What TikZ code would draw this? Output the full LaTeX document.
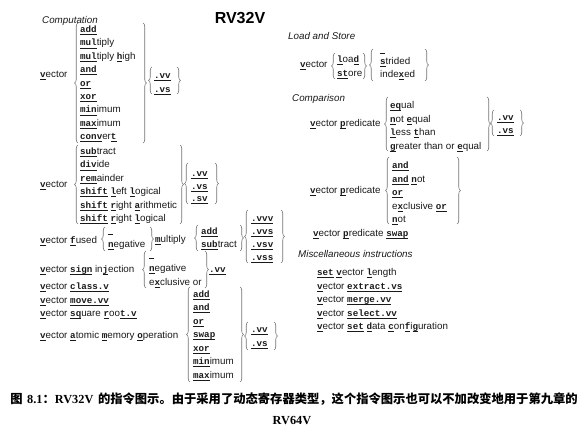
\documentclass[tikz,border=0pt]{standalone}
\usepackage{fontspec}
\setsansfont{Liberation Sans}
\newfontfamily\mono{Liberation Mono}
\newfontfamily\cjk{Noto Sans CJK SC}
\newfontfamily\serifb{Liberation Serif}
\usetikzlibrary{decorations.pathreplacing}
\newcommand\K[1]{\setbox0\hbox{\mono\bfseries\fontsize{9.2}{11}\selectfont #1}\rlap{\rule[-2.4pt]{\wd0}{0.75pt}}\box0\relax}
\newcommand\BLANK{\K{\hspace{5pt}}}
\newcommand\LB[3]{\draw[brc] (#1,#3) -- (#1,#2);}
\newcommand\RB[3]{\draw[brc] (#1,#2) -- (#1,#3);}
\tikzset{
  txt/.style={inner sep=0pt, anchor=base west, text=black!90, font=\sffamily\fontsize{9.8}{12}\selectfont},
  sec/.style={txt, font=\sffamily\itshape\fontsize{9.8}{11}\selectfont},
  brc/.style={draw=black!55, line width=0.6pt, decorate, decoration={brace, amplitude=3.5pt}},
}
\begin{document}
\begin{tikzpicture}[x=1pt,y=-1pt]
\useasboundingbox (0,0) rectangle (584,437);
\node[inner sep=0pt, font=\sffamily\bfseries\fontsize{16}{18}\selectfont] (title) at (240,18) {RV32V};
% ---------- Computation
\node[sec] (comp) at (42,23) {Computation};
\node[txt] (v1) at (40,77) {\K{v}ector};
\LB{78}{23}{143}
\node[txt] (c1) at (80,32.5) {\K{add}};
\node[txt] (c2) at (80,45.9) {\K{mul}tiply};
\node[txt] (c3) at (80,59.3) {\K{mul}tiply \K{h}igh};
\node[txt] (c4) at (80,72.7) {\K{and}};
\node[txt] (c5) at (80,86.1) {\K{or}};
\node[txt] (c6) at (80,99.5) {\K{xor}};
\node[txt] (c7) at (80,112.9) {\K{min}imum};
\node[txt] (c8) at (80,126.3) {\K{max}imum};
\node[txt] (c9) at (80,139.7) {\K{conv}er\K{t}};
\RB{143}{23}{143}
\LB{152}{67}{94}
\node[txt] (s1) at (154,78) {\K{.vv}};
\node[txt] (s2) at (154,92) {\K{.vs}};
\RB{177}{67}{94}
% ---------- block 2
\node[txt] (v2) at (40,187) {\K{v}ector};
\LB{78}{145}{224}
\node[txt] (d1) at (80,154.5) {\K{sub}tract};
\node[txt] (d2) at (80,167.9) {\K{div}ide};
\node[txt] (d3) at (80,181.3) {\K{rem}ainder};
\node[txt] (d4) at (80,194.7) {\K{shift} \K{l}eft \K{l}ogical};
\node[txt] (d5) at (80,208.1) {\K{shift} \K{r}ight \K{a}rithmetic};
\node[txt] (d6) at (80,221.5) {\K{shift} \K{r}ight \K{l}ogical};
\RB{180}{145}{224}
\LB{188}{163}{204}
\node[txt] (t1) at (191,176.5) {\K{.vv}};
\node[txt] (t2) at (191,189) {\K{.vs}};
\node[txt] (t3) at (191,201.5) {\K{.sv}};
\RB{215}{163}{204}
% ---------- fused
\node[txt] (f0) at (40,243) {\K{v}ector \K{f}used};
\LB{105}{227}{251}
\node[txt] (f1) at (108,232) {\BLANK};
\node[txt] (f2) at (108,247) {\K{n}egative};
\RB{150}{227}{251}
\node[txt] (f3) at (155,242.5) {\K{m}ultiply};
\LB{198}{225}{251}
\node[txt] (f4) at (201,234) {\K{add}};
\node[txt] (f5) at (201,247.5) {\K{sub}tract};
\RB{240}{225}{251}
\LB{248}{210}{263}
\node[txt] (f6) at (251,221.5) {\K{.vvv}};
\node[txt] (f7) at (251,234.5) {\K{.vvs}};
\node[txt] (f8) at (251,247.5) {\K{.vsv}};
\node[txt] (f9) at (251,260.5) {\K{.vss}};
\RB{281}{210}{263}
% ---------- sign injection
\node[txt] (g0) at (40,272.5) {\K{v}ector \K{sign} in\K{j}ection};
\LB{146}{251}{288}
\node[txt] (g1) at (149,256) {\BLANK};
\node[txt] (g2) at (149,271.5) {\K{n}egative};
\node[txt] (g3) at (149,285.5) {e\K{x}clusive or};
\RB{205}{251}{288}
\node[txt] (g4) at (209,272) {\K{.vv}};
\node[txt] (h1) at (40,289.5) {\K{v}ector \K{class.v}};
\node[txt] (h2) at (40,303) {\K{v}ector \K{move.vv}};
\node[txt] (h3) at (40,316.5) {\K{v}ector \K{sq}uare \K{r}oo\K{t.v}};
% ---------- atomic
\node[txt] (a0) at (40,338.5) {\K{v}ector \K{a}tomic \K{m}emory \K{o}peration};
\LB{190}{287}{382}
\node[txt] (a1) at (193,297) {\K{add}};
\node[txt] (a2) at (193,310.5) {\K{and}};
\node[txt] (a3) at (193,324) {\K{or}};
\node[txt] (a4) at (193,337.5) {\K{swap}};
\node[txt] (a5) at (193,351) {\K{xor}};
\node[txt] (a6) at (193,364.5) {\K{min}imum};
\node[txt] (a7) at (193,378) {\K{max}imum};
\RB{240}{287}{382}
\LB{248}{322}{350}
\node[txt] (a8) at (251,332) {\K{.vv}};
\node[txt] (a9) at (251,346) {\K{.vs}};
\RB{274}{322}{350}
% ---------- Load and Store
\node[sec] (ls) at (288,39) {Load and Store};
\node[txt] (l0) at (300,67) {\K{v}ector};
\LB{335}{53}{79}
\node[txt] (l1) at (337,62.5) {\K{l}oa\K{d}};
\node[txt] (l2) at (337,76) {\K{st}ore};
\RB{363}{53}{79}
\LB{373}{49}{81}
\node[txt] (l3) at (380,51) {\BLANK};
\node[txt] (l4) at (380,64.5) {\K{s}trided};
\node[txt] (l5) at (380,77.5) {inde\K{x}ed};
\RB{425}{49}{81}
% ---------- Comparison
\node[sec] (cmp) at (292,101) {Comparison};
\node[txt] (p0) at (310,126.5) {\K{v}ector \K{p}redicate};
\LB{388}{97}{151}
\node[txt] (p1) at (390,108.5) {\K{eq}ual};
\node[txt] (p2) at (390,122) {\K{n}ot \K{e}qual};
\node[txt] (p3) at (390,135.5) {\K{l}ess \K{t}han};
\node[txt] (p4) at (390,149) {\K{g}reater than or \K{e}qual};
\RB{487}{97}{151}
\LB{494}{110}{136}
\node[txt] (p5) at (497,120) {\K{.vv}};
\node[txt] (p6) at (497,133.5) {\K{.vs}};
\RB{520}{110}{136}
\node[txt] (q0) at (310,193.5) {\K{v}ector \K{p}redicate};
\LB{389}{157}{224}
\node[txt] (q1) at (392,168.5) {\K{and}};
\node[txt] (q2) at (392,182) {\K{and} \K{n}ot};
\node[txt] (q3) at (392,195.5) {\K{or}};
\node[txt] (q4) at (392,209) {e\K{x}clusive \K{or}};
\node[txt] (q5) at (392,222) {\K{n}ot};
\RB{457}{157}{224}
\node[txt] (q6) at (313,236.5) {\K{v}ector \K{p}redicate \K{swap}};
% ---------- Misc
\node[sec] (misc) at (298,257.5) {Miscellaneous instructions};
\node[txt] (m1) at (317,275.5) {\K{set} \K{v}ector \K{l}ength};
\node[txt] (m2) at (317,289) {\K{v}ector \K{extract.vs}};
\node[txt] (m3) at (317,302.5) {\K{v}ector \K{merge.vv}};
\node[txt] (m4) at (317,316) {\K{v}ector \K{select.vv}};
\node[txt] (m5) at (317,329.5) {\K{v}ector \K{set} \K{d}ata \K{c}on\K{f}i\K{g}uration};
% ---------- caption
\node[inner sep=0pt, font=\fontsize{12.3}{14}\selectfont\bfseries] (cap1) at (294,399)
  {{\cjk 图} {\serifb 8.1}{\cjk ：}{\serifb RV32V} {\cjk 的指令图示。由于采用了动态寄存器类型，这个指令图示也可以不加改变地用于第九章的}};
\node[inner sep=0pt, font=\fontsize{12.3}{14}\selectfont\bfseries\serifb] (cap2) at (292,421) {RV64V};
\end{tikzpicture}
\end{document}
